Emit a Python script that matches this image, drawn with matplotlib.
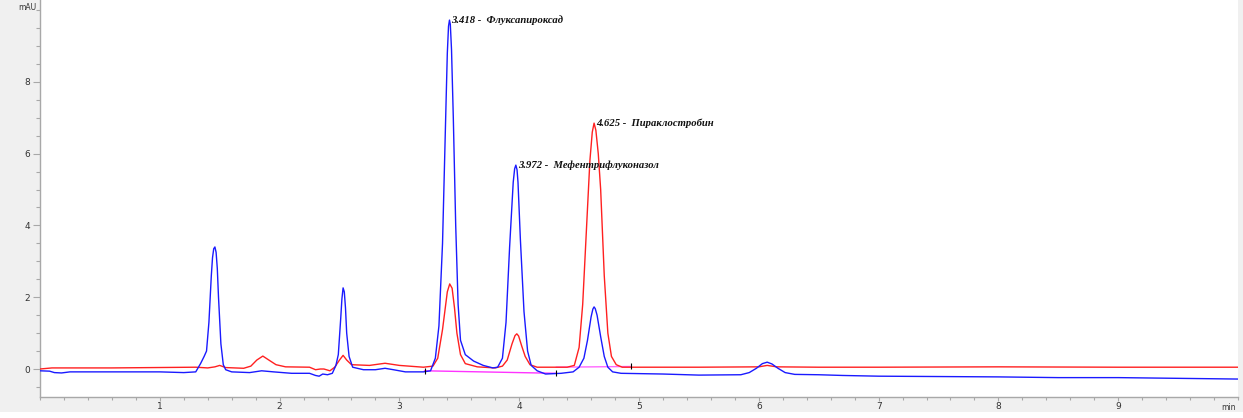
import matplotlib
matplotlib.use("Agg")
import matplotlib.pyplot as plt
from matplotlib.ticker import MultipleLocator, FixedLocator
from matplotlib.patches import Rectangle

# ---- data ----
blue_t = [0.00, 0.08, 0.12, 0.18, 0.25, 0.60, 1.00, 1.20, 1.30, 1.34, 1.37, 1.39, 1.41, 1.43, 1.44, 1.45, 1.46,
          1.47, 1.48, 1.49, 1.51, 1.53, 1.55, 1.60, 1.75, 1.85, 1.95, 2.10, 2.25, 2.30, 2.33, 2.36, 2.40,
          2.44, 2.47, 2.49, 2.51, 2.52, 2.53, 2.54, 2.55, 2.56, 2.58, 2.61, 2.70, 2.80, 2.88, 2.95, 3.05, 3.20,
          3.26, 3.30, 3.33, 3.36, 3.39, 3.40, 3.41, 3.418, 3.425, 3.435, 3.45, 3.47, 3.49, 3.51, 3.55, 3.62, 3.70,
          3.78, 3.82, 3.86, 3.89, 3.92, 3.95, 3.962, 3.972, 3.982, 3.99, 4.01, 4.04, 4.07, 4.10, 4.15, 4.22, 4.35,
          4.45, 4.50, 4.54, 4.57, 4.60, 4.615, 4.625, 4.635, 4.65, 4.68, 4.71, 4.74, 4.78, 4.85, 5.20, 5.50, 5.85,
          5.92, 5.98, 6.03, 6.07, 6.11, 6.16, 6.22, 6.30, 6.50, 6.70, 7.00, 7.50, 8.00, 8.50, 9.00,
          9.50, 10.00]
blue_v = [-0.05, -0.06, -0.10, -0.11, -0.08, -0.08, -0.08, -0.10, -0.08, 0.15, 0.35, 0.50, 1.30, 2.60, 3.10, 3.35, 3.40,
          3.25, 2.80, 2.00, 0.70, 0.12, -0.02, -0.08, -0.10, -0.05, -0.08, -0.12, -0.12, -0.18, -0.20, -0.14, -0.16,
          -0.12, 0.10, 0.40, 1.40, 1.95, 2.26, 2.15, 1.70, 1.00, 0.35, 0.05, -0.02, -0.02, 0.02, -0.02, -0.08, -0.08,
          -0.05, 0.30, 1.20, 3.50, 7.50, 8.80, 9.55, 9.72, 9.60, 8.90, 7.00, 4.00, 1.80, 0.80, 0.40, 0.22, 0.10,
          0.03, 0.05, 0.30, 1.30, 3.40, 5.20, 5.58, 5.68, 5.55, 5.20, 3.60, 1.60, 0.50, 0.10, -0.05, -0.14, -0.12,
          -0.08, 0.05, 0.30, 0.80, 1.45, 1.67, 1.73, 1.68, 1.50, 0.90, 0.35, 0.05, -0.08, -0.12, -0.14, -0.17, -0.16,
          -0.10, 0.02, 0.15, 0.19, 0.14, 0.02, -0.10, -0.15, -0.16, -0.18, -0.20, -0.21, -0.22, -0.24, -0.24,
          -0.26, -0.28]

red_t = [0.00, 0.10, 0.60, 1.30, 1.40, 1.46, 1.50, 1.55, 1.70, 1.76, 1.81, 1.86, 1.91, 1.97, 2.05, 2.25,
         2.30, 2.34, 2.37, 2.42, 2.46, 2.50, 2.53, 2.56, 2.60, 2.75, 2.88, 3.00, 3.20, 3.28, 3.32,
         3.36, 3.40, 3.42, 3.44, 3.46, 3.48, 3.51, 3.55, 3.65, 3.80, 3.86, 3.90, 3.94, 3.965, 3.98, 3.995, 4.02, 4.05,
         4.09, 4.15, 4.40, 4.46, 4.50, 4.53, 4.56, 4.59, 4.61, 4.625, 4.64, 4.66, 4.68, 4.71, 4.74, 4.77,
         4.81, 4.86, 5.50, 6.00, 6.07, 6.15, 6.50, 7.00, 8.00, 9.00, 10.00]
red_v = [0.00, 0.03, 0.03, 0.05, 0.03, 0.06, 0.10, 0.04, 0.02, 0.08, 0.25, 0.36, 0.25, 0.12, 0.06, 0.05,
         -0.02, 0.00, 0.00, -0.05, 0.05, 0.25, 0.38, 0.25, 0.12, 0.10, 0.16, 0.10, 0.05, 0.08, 0.30,
         1.10, 2.15, 2.37, 2.25, 1.70, 1.00, 0.40, 0.15, 0.06, 0.03, 0.08, 0.25, 0.70, 0.93, 0.98, 0.92, 0.65, 0.35,
         0.12, 0.05, 0.05, 0.10, 0.60, 1.80, 3.80, 5.80, 6.60, 6.85, 6.65, 6.00, 5.00, 2.60, 1.00, 0.35,
         0.12, 0.05, 0.05, 0.06, 0.10, 0.06, 0.05, 0.05, 0.06, 0.05, 0.05]

base1_t = [3.21, 4.31]
base1_v = [-0.05, -0.12]
base2_t = [4.31, 4.93]
base2_v = [0.05, 0.07]

peak_rt = [3.418, 3.972, 4.625]
peak_h = [9.72, 5.68, 6.85]
peak_names = ["Флуксапироксад", "Мефентрифлуконазол", "Пираклостробин"]

y_ticks = [0, 2, 4, 6, 8]
x_ticks = [1, 2, 3, 4, 5, 6, 7, 8, 9]

# ---- figure ----
fig = plt.figure(figsize=(12.43, 4.18), dpi=100, facecolor="#f0f0f0")
ax = fig.add_axes([40 / 1243, 21 / 418, 1198 / 1243, 397 / 418])
ax.set_facecolor("white")

ax.plot(red_t, red_v, color="#ff2020", lw=1.0, zorder=3)
ax.plot(blue_t, blue_v, color="#1a1aff", lw=1.0, zorder=4)
ax.plot(base1_t, base1_v, color="#ff33ff", lw=1.0, zorder=2)
ax.plot(base2_t, base2_v, color="#ff66ff", lw=1.0, zorder=2)
ax.plot([base1_t[0], base1_t[1], base2_t[1]], [base1_v[0], base1_v[1] + 0.02, base2_v[1]],
        ls="none", marker="|", ms=4, color="black", mew=0.8, zorder=5)

for rt, h, name in zip(peak_rt, peak_h, peak_names):
    ax.annotate(f"{rt:.3f} -  {name}", xy=(rt, h), xytext=(1.5, 0), textcoords="offset points",
                va="center", ha="left", fontsize=7.7, fontweight="bold", fontstyle="italic",
                family="Liberation Serif", color="#111111", zorder=6)

ax.set_xlim(0, 10)
ax.set_ylim(-0.78, 10.28)

ax.yaxis.set_major_locator(FixedLocator(y_ticks))
ax.yaxis.set_minor_locator(MultipleLocator(0.5))
ax.xaxis.set_major_locator(FixedLocator(x_ticks))
ax.xaxis.set_minor_locator(MultipleLocator(0.2))

for s in ["top", "right"]:
    ax.spines[s].set_visible(False)
for s in ["left", "bottom"]:
    ax.spines[s].set_color("#a8a8a8")
    ax.spines[s].set_linewidth(1.0)

ax.tick_params(axis="y", which="major", length=5, width=0.8, color="#a8a8a8",
               labelsize=6.5, labelcolor="#333333", pad=2)
ax.tick_params(axis="y", which="minor", length=3, width=0.8, color="#a8a8a8")
ax.tick_params(axis="x", which="major", length=3, width=0.8, color="#a8a8a8",
               labelsize=6.5, labelcolor="#333333", pad=0.5)
ax.tick_params(axis="x", which="minor", length=2.5, width=0.8, color="#a8a8a8")

fig.text(36 / 1243, 1 - 7 / 418, "mAU", ha="right", va="center", fontsize=5.5, color="#333333")
fig.text(1229 / 1243, 1 - 407 / 418, "min", ha="center", va="center", fontsize=5.5, color="#333333")

fig.patches.append(Rectangle((0, 0), 1, 6 / 418, transform=fig.transFigure,
                             facecolor="white", edgecolor="none", zorder=0))

fig.savefig("out.png", dpi=100, facecolor=fig.get_facecolor())
